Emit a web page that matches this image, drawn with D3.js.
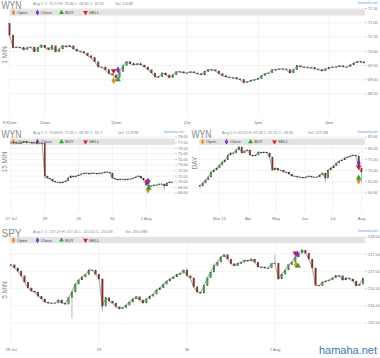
<!DOCTYPE html>
<html><head><meta charset="utf-8">
<script src="https://cdn.jsdelivr.net/npm/d3@7"></script>
<style>body{margin:0;background:#fff}svg{display:block;font-family:"Liberation Sans",Arial,sans-serif}</style>
</head><body><svg id="c" width="380" height="358"></svg>
<script>
const legendNames = ["Open","Close","BUY","SELL"];

// ---- Panel 1: WYN 1 MIN (minutes after 9:30, 3-minute steps)
const p1Title = "WYN", p1Label = "1 MIN";
const p1Info = "Aug 1 O: 70.72 H: 70.80 L: 68.85 C: 69.62", p1Vol = "Vol: 2.62M";
const p1Open0 = 70.98;
const p1Close = [70.57,70.12,70.15,70.12,70.05,70.12,70.15,69.98,70.12,70.22,70.12,70.05,70.19,69.98,70.08,70.19,70.15,70.19,70.08,70.01,
69.98,69.94,69.84,69.77,69.63,69.45,69.45,69.35,69.21,69.17,69.07,69.28,69.49,69.63,69.56,69.52,69.56,69.52,69.45,69.35,
69.24,69.10,69.10,69.24,69.17,69.07,69.17,69.28,69.28,69.24,69.24,69.28,69.24,69.21,69.17,69.28,69.35,69.35,69.31,69.21,
69.14,69.10,69.07,69.07,69.03,69.00,68.90,68.93,68.97,69.00,69.03,69.14,69.21,69.24,69.35,69.35,69.38,69.38,69.35,69.24,
69.35,69.49,69.45,69.45,69.42,69.42,69.38,69.35,69.31,69.38,69.42,69.45,69.45,69.49,69.45,69.45,69.52,69.59,69.63,69.63,69.59];
const p1Wicks = [[0,71.0,70.5],[30,69.1,68.97],[66,68.95,68.86]];
const p1YTicks = [68.5,69,69.5,70,70.5,71,71.5];
const p1XTicks = [0,30,90,150,210,270];
const p1XLabels = ["9:30am","10am","11am","12p","1pm","2pm"];
const p1Markers = [["Open",88,68.97],["BUY",91.7,69.0],["SELL",88,69.31],["Close",91.7,69.35]];

// ---- Panel 2: WYN 15 MIN (bar index, 13 per day)
const p2Title = "WYN", p2Label = "15 MIN";
const p2Info = "Aug 1 O: 76.88 H: 77.45 L: 68.39 C: 69.7", p2Vol = "Vol: 12.87M";
const p2Open0 = 76.88;
const p2Close = [76.9,77.1,76.9,76.8,77.0,77.2,77.0,77.1,76.9,77.0,76.8,76.9,76.9,
71.04,70.68,70.5,70.14,69.96,69.96,69.79,69.96,70.14,70.68,71.04,70.86,71.04,
71.21,71.39,71.57,71.57,71.39,71.57,71.57,71.39,71.57,71.57,71.75,71.75,71.57,
70.68,70.5,70.32,70.5,70.5,70.32,70.5,70.5,70.68,70.86,71.04,70.68,70.32,
69.43,69.25,69.25,69.43,69.43,69.61,69.61,69.25,69.79,69.96,69.96];
const p2Wicks = [[0,77.45,76.8],[13,73.2,70.6],[59,69.6,68.54]];
const p2YTicks = [68,69,70,71,72,73,74,75,76,77,78];
const p2XTicks = [0,13,26,39,52];
const p2XLabels = ["27 Jul","28","29","30","2 Aug"];
const p2Markers = [["Open",52.7,68.54],["BUY",53,68.89],["SELL",52.7,69.96],["Close",52.7,70.14]];

// ---- Panel 3: WYN DAY (every 3rd calendar day from 9 Feb 2016)
const p3Title = "WYN", p3Label = "DAY";
const p3Info = "Aug 1 O: 63.32 H: 81.08 L: 62.01 C: 68.85", p3Vol = "Vol: 157.0M";
const p3Start = "2016-02-09";
const p3Open0 = 63.32;
const p3Close = [63.13,64.46,65.80,67.14,69.38,70.27,71.16,72.50,73.84,74.73,76.96,77.86,77.86,79.20,80.54,77.86,78.75,79.20,76.96,76.52,
76.96,78.30,77.86,78.30,77.86,76.07,70.27,71.16,70.27,70.27,69.38,69.38,68.48,67.59,67.59,67.14,67.14,66.70,67.14,67.59,
67.14,67.14,67.14,68.04,68.93,66.70,70.27,71.16,72.05,73.39,74.29,74.73,75.63,76.07,76.52,76.96,76.52,71.16,69.38];
const p3Wicks = [[0,63.4,62.01],[14,81.08,79.2],[45,68.9,64.9],[58,71.2,65.0]];
const p3YTicks = [60,65,70,75,80,85];
const p3XTicks = ["2016-03-01","2016-04-01","2016-05-01","2016-06-01","2016-07-01","2016-08-01"];
const p3XLabels = ["Mar 16","Apr","May","Jun","Jul","Aug"];
const p3Markers = [["Open",171,65.36],["BUY",171,66.70],["SELL",171,71.61],["Close",171,73.39]];

// ---- Panel 4: SPY 5 MIN (bar index, 26 per day)
const p4Title = "SPY", p4Label = "5 MIN";
const p4Info = "Aug 1 O: 217.19 H: 217.65 L: 215.62 C: 216.08", p4Vol = "Vol: 290.09M";
const p4Open0 = 217.19;
const p4Close = [217.19,217.10,217.01,216.87,216.69,216.52,216.43,216.40,216.28,216.20,216.11,216.08,216.08,216.08,216.17,216.08,216.05,216.23,216.40,216.63,
216.75,216.84,216.90,217.04,217.04,216.92,216.78,215.99,216.23,216.14,216.08,215.97,215.91,215.94,216.02,216.11,216.20,216.26,216.17,216.08,
216.20,216.28,216.34,216.46,216.52,216.63,216.72,216.78,216.84,216.90,216.95,217.04,216.87,216.81,216.55,216.40,216.37,216.58,216.81,216.98,
217.16,217.27,217.42,217.48,217.36,217.22,217.16,217.22,217.27,217.33,217.30,217.36,217.27,217.13,217.13,217.10,217.10,217.22,217.24,216.78,
216.92,217.04,217.19,217.27,217.42,217.53,217.62,217.53,217.36,217.10,216.60,216.58,216.69,216.72,216.75,216.81,216.87,216.87,216.75,216.81,
216.78,216.72,216.58,216.63,216.81];
const p4Wicks = [[18,216.42,215.63],[27,216.78,215.82],[52,217.10,216.85],[78,217.48,217.2],[86,217.65,217.5]];
const p4YTicks = [215.5,216,216.5,217,217.5,218];
const p4XTicks = [0,26,52,78];
const p4XLabels = ["28 Jul","29","30","2 Aug"];
const p4Markers = [["Open",84.2,217.19],["BUY",84.8,217.16],["SELL",84,217.53],["Close",84.6,217.50]];

const svg = d3.select("#c");
const fmt2 = d3.format(".2f");
const markerColor = {Open:"#f28a1c", Close:"#7b2fd0", BUY:"#2aa52a", SELL:"#d42020"};
function markerPath(t, size){
  if (t==="Open"||t==="Close") return d3.symbol(d3.symbolDiamond, size)();
  return d3.symbol(d3.symbolTriangle, size)();
}

function panel(c){
  const g = svg.append("g");
  const x = c.x, y = c.y;
  const clipId = "clip"+c.id;
  svg.append("clipPath").attr("id",clipId).append("rect")
    .attr("x",c.px0-2).attr("y",c.py0).attr("width",c.px1-c.px0+2).attr("height",c.py1-c.py0);
  // grid
  g.selectAll("line.hg").data(c.yTicks).join("line").attr("class","hg")
    .attr("x1",c.px0).attr("x2",c.px1).attr("y1",d=>y(d)).attr("y2",d=>y(d))
    .attr("stroke","#ebebeb").attr("stroke-width",0.6);
  g.selectAll("line.vg").data(c.xTicks).join("line").attr("class","vg")
    .attr("x1",d=>x(d)).attr("x2",d=>x(d)).attr("y1",c.py0).attr("y2",c.py1)
    .attr("stroke","#ebebeb").attr("stroke-width",0.6);
  // legend bar
  g.append("rect").attr("x",c.lx).attr("y",c.ly).attr("width",c.px1-c.lx).attr("height",6.3).attr("fill","#e3e3e3");
  legendNames.forEach((n,i)=>{
    const lx = c.lx + 3.5 + i*24;
    g.append("path").attr("d",markerPath(n,10)).attr("fill",markerColor[n])
      .attr("transform",`translate(${lx},${c.ly+3.2})${n==="SELL"?" rotate(180)":""}`);
    g.append("text").attr("x",lx+3.5).attr("y",c.ly+4.6).attr("font-size",4.2).attr("fill","#444").text(n);
  });
  // y tick labels
  g.selectAll("line.yt").data(c.yTicks).join("line").attr("class","yt")
    .attr("x1",c.px1).attr("x2",c.px1+2).attr("y1",d=>y(d)).attr("y2",d=>y(d)).attr("stroke","#999").attr("stroke-width",0.5);
  g.selectAll("text.yl").data(c.yTicks).join("text").attr("class","yl")
    .attr("x",c.px1+3).attr("y",d=>y(d)+1.4).attr("font-size",3.9).attr("fill","#777").text(d=>fmt2(d));
  // x labels
  g.selectAll("text.xl").data(c.xTicks).join("text").attr("class","xl")
    .attr("x",d=>x(d)).attr("y",c.xly).attr("text-anchor","middle").attr("font-size",4.2).attr("fill","#777")
    .text((d,i)=>c.xLabels[i]);
  // candles
  const bars = c.close.map((v,i)=>{
    const o = i===0 ? c.open0 : c.close[i-1];
    const w = c.wicks.find(k=>k[0]===i);
    return {xv:c.xv(i), o, c:v, h: w? w[1] : Math.max(o,v), l: w? w[2] : Math.min(o,v)};
  });
  const cg = g.append("g").attr("clip-path",`url(#${clipId})`);
  cg.append("path").datum(bars)
    .attr("d", d3.line().x(d=>x(d.xv)).y(d=>y(d.c)))
    .attr("fill","none").attr("stroke","#a8a8a8").attr("stroke-width",1.1);
  cg.selectAll("line.wk").data(bars).join("line").attr("class","wk")
    .attr("x1",d=>x(d.xv)).attr("x2",d=>x(d.xv)).attr("y1",d=>y(d.h)).attr("y2",d=>y(d.l))
    .attr("stroke","#888").attr("stroke-width",0.6);
  cg.selectAll("rect.bd").data(bars).join("rect").attr("class","bd")
    .attr("x",d=>x(d.xv)-c.bw/2).attr("width",c.bw)
    .attr("y",d=>y(Math.max(d.o,d.c))).attr("height",d=>Math.max(0.6, Math.abs(y(d.o)-y(d.c))))
    .attr("fill",d=>d.c>d.o?"#45a040":(d.c<d.o?"#962a25":"#333"))
    .attr("stroke","#333").attr("stroke-width",0.2);
  // markers
  c.markers.forEach(m=>{
    g.append("path").attr("d",markerPath(m[0],13)).attr("fill",markerColor[m[0]])
      .attr("stroke","rgba(0,0,0,0.25)").attr("stroke-width",0.3)
      .attr("transform",`translate(${x(c.mx(m[1]))},${y(m[2])})${m[0]==="SELL"?" rotate(180)":""}`);
  });
  // titles
  g.append("text").attr("x",c.tx).attr("y",c.ty).attr("font-size",10).attr("fill","#8a8a8a")
    .attr("textLength",20).attr("lengthAdjust","spacingAndGlyphs").text(c.title);
  g.append("text").attr("x",c.ix).attr("y",c.ty-4).attr("font-size",3.8).attr("fill","#8a8a8a").text(c.info);
  g.append("text").attr("x",c.vx).attr("y",c.ty-4).attr("font-size",3.8).attr("fill","#8a8a8a").text(c.vol);
  g.append("text").attr("x",c.hx).attr("y",c.ty-5).attr("font-size",3.8).attr("fill","#5aa0e6").attr("text-anchor","end").text("hamaha.net");
  g.append("text").attr("transform",`translate(${c.yLx},${c.yLy}) rotate(-90)`).attr("text-anchor","middle")
    .attr("font-size",6.5).attr("fill","#8a8a8a").text(c.label);
}

// Panel 1
panel({id:1, title:p1Title, info:p1Info, vol:p1Vol, label:p1Label,
  x:d3.scaleLinear().domain([0,300]).range([9.5,364.5]),
  y:d3.scaleLinear().domain([68.5,71.5]).range([94,8.5]),
  xv:i=>i*3, mx:v=>v, close:p1Close, open0:p1Open0, wicks:p1Wicks, bw:1.6,
  yTicks:p1YTicks, xTicks:p1XTicks, xLabels:p1XLabels, markers:p1Markers,
  px0:9.5, px1:365, py0:8, py1:116, lx:10, ly:9.3, xly:123.5,
  tx:1.5, ty:9, ix:33, vx:115, hx:378, yLx:6.5, yLy:55});

// Panel 2
panel({id:2, title:p2Title, info:p2Info, vol:p2Vol, label:p2Label,
  x:d3.scaleLinear().domain([0,65]).range([11,180]),
  y:d3.scaleLinear().domain([68,78]).range([193,137]),
  xv:i=>i, mx:v=>v, close:p2Close, open0:p2Open0, wicks:p2Wicks, bw:1.4,
  yTicks:p2YTicks, xTicks:p2XTicks, xLabels:p2XLabels, markers:p2Markers,
  px0:9.5, px1:175, py0:137, py1:212, lx:10, ly:138.6, xly:220,
  tx:1.5, ty:138.3, ix:33, vx:118, hx:184, yLx:6.5, yLy:162});

// Panel 3
const p3t0 = d3.timeParse("%Y-%m-%d")(p3Start);
const p3x = d3.scaleTime().domain([new Date(2016,2,1), new Date(2016,7,1)]).range([219.5,361.5]);
panel({id:3, title:p3Title, info:p3Info, vol:p3Vol, label:p3Label,
  x:p3x,
  y:d3.scaleLinear().domain([60,85]).range([193,137]),
  xv:i=>d3.timeDay.offset(p3t0, 3*i), mx:v=>d3.timeDay.offset(p3t0, v),
  close:p3Close, open0:p3Open0, wicks:p3Wicks, bw:1.4,
  yTicks:p3YTicks, xTicks:p3XTicks.map(d3.timeParse("%Y-%m-%d")), xLabels:p3XLabels, markers:p3Markers,
  px0:197, px1:365, py0:137, py1:212, lx:199, ly:138.6, xly:220,
  tx:191.5, ty:138.3, ix:222, vx:308, hx:378, yLx:197, yLy:163});

// Panel 4
panel({id:4, title:p4Title, info:p4Info, vol:p4Vol, label:p4Label,
  x:d3.scaleLinear().domain([0,104]).range([11,363]),
  y:d3.scaleLinear().domain([215.5,218]).range([323,237]),
  xv:i=>i, mx:v=>v, close:p4Close, open0:p4Open0, wicks:p4Wicks, bw:1.6,
  yTicks:p4YTicks, xTicks:p4XTicks, xLabels:p4XLabels, markers:p4Markers,
  px0:9.5, px1:365, py0:237, py1:343, lx:10, ly:237, xly:351,
  tx:1.5, ty:236.6, ix:33, vx:125, hx:378, yLx:6.5, yLy:290});

svg.append("text").attr("x",377).attr("y",354).attr("text-anchor","end").attr("font-size",11)
  .attr("fill","#4677b8").text("hamaha.net");
</script></body></html>
